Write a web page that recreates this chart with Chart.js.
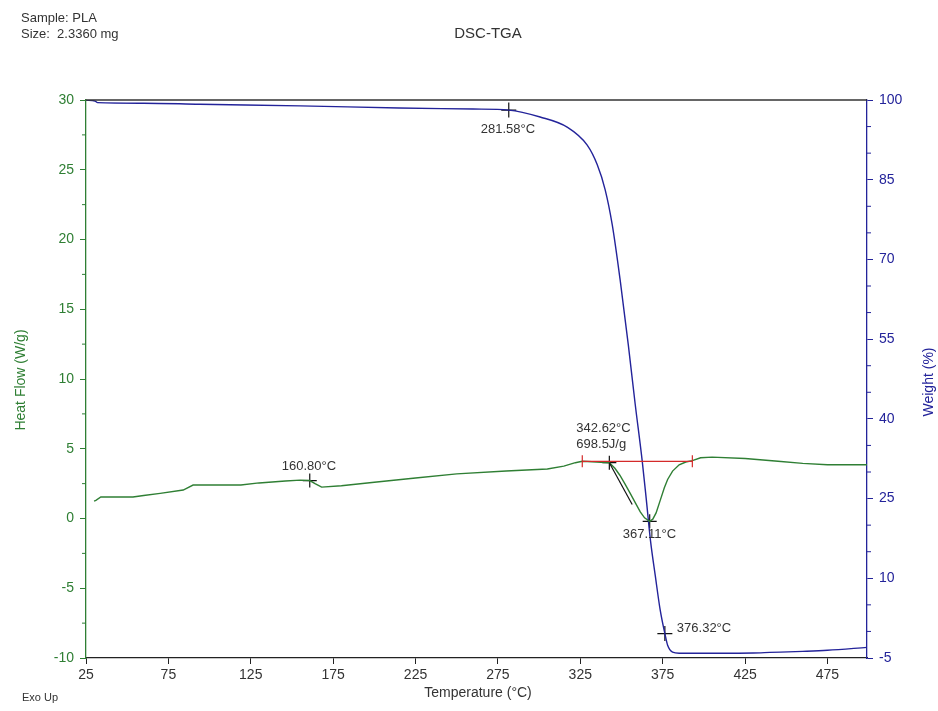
<!DOCTYPE html>
<html>
<head>
<meta charset="utf-8">
<title>DSC-TGA</title>
<script src="https://cdn.jsdelivr.net/npm/chart.js@4.4.1/dist/chart.umd.min.js"></script>
<style>
    body { margin: 0; background: #fff; }
    #wrap { width: 938px; height: 711px; }
</style>
</head>
<body>
<div id="wrap"><canvas id="dscChart" width="938" height="711"></canvas></div>
<script>
// Heat flow (DSC) curve, temperature in °C vs W/g
const dscTemp = [29.9, 31, 34, 53.5, 60, 70, 84, 90, 119, 130, 146, 155, 160.8, 164, 168, 180, 200, 225, 250, 280,
    305, 315, 322, 326.2, 335, 342.62, 346, 349, 352, 355.3, 358.5, 361.4, 364, 367.11, 369, 371, 373.5, 376, 378,
    381, 385, 389, 393, 398, 405, 425, 445, 460, 475, 499];
const dscFlow = [1.25, 1.3, 1.54, 1.54, 1.65, 1.8, 2.04, 2.4, 2.4, 2.55, 2.69, 2.75, 2.72, 2.5, 2.25, 2.35, 2.6, 2.9, 3.2, 3.4,
    3.55, 3.75, 4.0, 4.1, 4.05, 4.0, 3.6, 3.1, 2.5, 1.8, 1.1, 0.47, 0.05, -0.2, -0.05, 0.4, 1.3, 2.2, 2.8,
    3.4, 3.85, 4.05, 4.15, 4.35, 4.4, 4.3, 4.1, 3.95, 3.85, 3.85];

// Weight loss (TGA) curve, temperature in °C vs %
const tgaTemp = [25, 30.5, 32, 60, 94, 155, 215, 260, 281.58, 300.6, 317, 329.2, 335.3, 340.1, 344.4, 349.2, 354.1,
    358.3, 362.6, 365, 367.6, 370.5, 373.5, 376.32, 378, 381, 385, 400, 430, 440, 460, 475, 499];
const tgaWeight = [100, 99.8, 99.5, 99.4, 99.2, 98.9, 98.5, 98.3, 98.1, 96.8, 94.9, 91.5, 87.8, 83.1, 76.5, 66.1, 54.0,
    42.8, 32.0, 25.0, 17.1, 10.5, 4.0, -0.4, -2.6, -3.9, -4.1, -4.1, -4.05, -3.95, -3.75, -3.55, -3.0];

// Axis ticks
const tempTicks = [25, 75, 125, 175, 225, 275, 325, 375, 425, 475];
const flowTicks = [-10, -5, 0, 5, 10, 15, 20, 25, 30];
const weightTicks = [-5, 10, 25, 40, 55, 70, 85, 100];

// Peak / onset markers
const flowMarkTemp = [160.80, 342.62, 367.11];
const flowMarkValue = [2.72, 4.0, -0.2];
const weightMarkTemp = [281.58, 376.32];
const weightMarkValue = [98.1, -0.4];

// Integration baseline and onset tangent
const baseTemp = [326.2, 393];
const baseValue = [4.1, 4.1];
const tangentTemp = [342.62, 356.5];
const tangentValue = [4.0, 1.0];
const enthalpyText = '698.5J/g';

const GREEN = '#2f7f34';
const BLUE = '#23239a';
const FONT = '"Liberation Sans", Arial, sans-serif';

function pairs(xs, ys) {
    return xs.map((x, i) => ({ x: x, y: ys[i] }));
}

// Text labels and frame bits drawn on top of the chart
const decorPlugin = {
    id: 'decor',
    afterDraw(chart) {
        const ctx = chart.ctx;
        const area = chart.chartArea;
        const xs = chart.scales.x;
        const yl = chart.scales.y;
        const yr = chart.scales.y1;
        ctx.save();

        // top frame line
        ctx.strokeStyle = '#333';
        ctx.lineWidth = 1.3;
        ctx.beginPath();
        ctx.moveTo(area.left, area.top);
        ctx.lineTo(area.right, area.top);
        ctx.stroke();

        // minor ticks on both value axes
        ctx.lineWidth = 1;
        ctx.strokeStyle = GREEN;
        for (let i = 0; i < flowTicks.length - 1; i++) {
            const py = yl.getPixelForValue((flowTicks[i] + flowTicks[i + 1]) / 2);
            ctx.beginPath();
            ctx.moveTo(area.left - 4, py);
            ctx.lineTo(area.left, py);
            ctx.stroke();
        }
        ctx.strokeStyle = BLUE;
        for (let i = 0; i < weightTicks.length - 1; i++) {
            const step = (weightTicks[i + 1] - weightTicks[i]) / 3;
            for (let k = 1; k < 3; k++) {
                const py = yr.getPixelForValue(weightTicks[i] + step * k);
                ctx.beginPath();
                ctx.moveTo(area.right, py);
                ctx.lineTo(area.right + 4, py);
                ctx.stroke();
            }
        }

        // header and axis titles
        ctx.fillStyle = '#333';
        ctx.font = '13px ' + FONT;
        ctx.textAlign = 'left';
        ctx.textBaseline = 'alphabetic';
        ctx.fillText('Sample: PLA', 21, 22);
        ctx.fillText('Size:  2.3360 mg', 21, 38);
        ctx.font = '11px ' + FONT;
        ctx.fillText('Exo Up', 22, 701);

        ctx.textAlign = 'center';
        ctx.font = '15px ' + FONT;
        ctx.fillText('DSC-TGA', 488, 38);
        ctx.font = '14px ' + FONT;
        ctx.fillText('Temperature (°C)', 478, 697);

        ctx.save();
        ctx.translate(25, 380);
        ctx.rotate(-Math.PI / 2);
        ctx.fillStyle = GREEN;
        ctx.fillText('Heat Flow (W/g)', 0, 0);
        ctx.restore();

        ctx.save();
        ctx.translate(933, 382);
        ctx.rotate(-Math.PI / 2);
        ctx.fillStyle = BLUE;
        ctx.fillText('Weight (%)', 0, 0);
        ctx.restore();

        // marker labels
        ctx.fillStyle = '#333';
        ctx.font = '13px ' + FONT;
        ctx.textAlign = 'left';
        const fmt = t => t.toFixed(2) + '°C';
        const flowOffsets = [[-28, -11], [-33, -31], [-27, 17]];
        flowMarkTemp.forEach((t, i) => {
            const px = xs.getPixelForValue(t);
            const py = yl.getPixelForValue(flowMarkValue[i]);
            ctx.fillText(fmt(t), px + flowOffsets[i][0], py + flowOffsets[i][1]);
            if (i === 1) {
                ctx.fillText(enthalpyText, px + flowOffsets[i][0], py + flowOffsets[i][1] + 16);
            }
        });
        const weightOffsets = [[-28, 23], [12, -2]];
        weightMarkTemp.forEach((t, i) => {
            const px = xs.getPixelForValue(t);
            const py = yr.getPixelForValue(weightMarkValue[i]);
            ctx.fillText(fmt(t), px + weightOffsets[i][0], py + weightOffsets[i][1]);
        });

        ctx.restore();
    }
};

const ctx = document.getElementById('dscChart').getContext('2d');
const dscChart = new Chart(ctx, {
    type: 'line',
    data: {
        datasets: [
            {
                label: 'Integration baseline',
                data: pairs(baseTemp, baseValue),
                yAxisID: 'y',
                borderColor: '#d42a2a',
                borderWidth: 1.2,
                pointStyle: 'line',
                rotation: 90,
                pointRadius: 6,
                pointBorderColor: '#d42a2a',
                pointBorderWidth: 1.2
            },
            {
                label: 'Onset tangent',
                data: pairs(tangentTemp, tangentValue),
                yAxisID: 'y',
                borderColor: '#111',
                borderWidth: 1.2,
                pointRadius: 0
            },
            {
                label: 'Heat Flow',
                data: pairs(dscTemp, dscFlow),
                yAxisID: 'y',
                borderColor: GREEN,
                borderWidth: 1.4,
                pointRadius: 0
            },
            {
                label: 'Weight',
                data: pairs(tgaTemp, tgaWeight),
                yAxisID: 'y1',
                borderColor: BLUE,
                borderWidth: 1.4,
                pointRadius: 0,
                cubicInterpolationMode: 'monotone'
            },
            {
                label: 'Heat flow markers',
                data: pairs(flowMarkTemp, flowMarkValue),
                yAxisID: 'y',
                showLine: false,
                pointStyle: 'cross',
                pointRadius: 7,
                pointBorderColor: '#111',
                pointBorderWidth: 1.2
            },
            {
                label: 'Weight markers',
                data: pairs(weightMarkTemp, weightMarkValue),
                yAxisID: 'y1',
                showLine: false,
                pointStyle: 'cross',
                pointRadius: 7.5,
                pointBorderColor: '#111',
                pointBorderWidth: 1.2
            }
        ]
    },
    options: {
        responsive: false,
        animation: false,
        devicePixelRatio: 1,
        layout: { padding: { top: 100, left: 0, right: 0, bottom: 0 } },
        plugins: {
            legend: { display: false },
            tooltip: { enabled: false }
        },
        scales: {
            x: {
                type: 'linear',
                min: 25,
                max: 499,
                afterBuildTicks: s => { s.ticks = tempTicks.map(v => ({ value: v })); },
                afterFit: s => { s.height = 53; },
                ticks: { color: '#333', font: { family: FONT, size: 14 }, padding: 3, maxRotation: 0 },
                border: { color: '#222', width: 1.3 },
                grid: { drawOnChartArea: false, tickLength: 6, color: '#222' }
            },
            y: {
                position: 'left',
                min: -10,
                max: 30,
                afterBuildTicks: s => { s.ticks = flowTicks.map(v => ({ value: v })); },
                afterFit: s => { s.width = 86; },
                ticks: { color: GREEN, font: { family: FONT, size: 14 }, padding: 6 },
                border: { color: GREEN, width: 1.3 },
                grid: { drawOnChartArea: false, tickLength: 6, color: GREEN }
            },
            y1: {
                position: 'right',
                min: -5,
                max: 100,
                afterBuildTicks: s => { s.ticks = weightTicks.map(v => ({ value: v })); },
                afterFit: s => { s.width = 71; },
                ticks: { color: BLUE, font: { family: FONT, size: 14 }, padding: 6 },
                border: { color: BLUE, width: 1.3 },
                grid: { drawOnChartArea: false, tickLength: 6, color: BLUE }
            }
        }
    },
    plugins: [decorPlugin]
});
</script>
</body>
</html>
